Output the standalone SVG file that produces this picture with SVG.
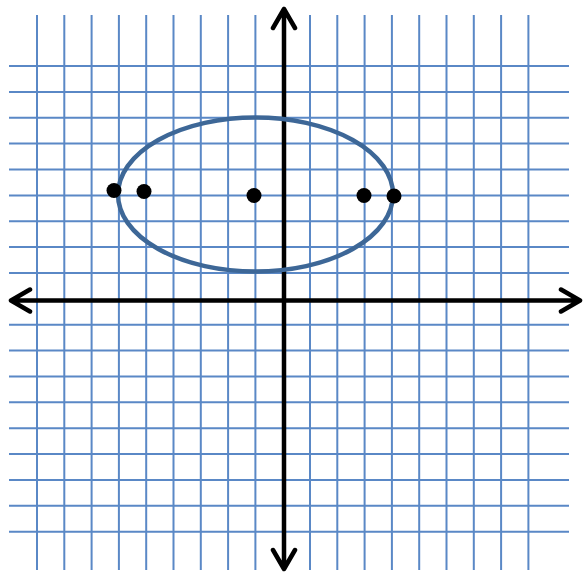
<svg xmlns="http://www.w3.org/2000/svg" width="586" height="578" viewBox="0 0 586 578">
<style>
.g{stroke:#5a88c6;stroke-width:2;fill:none}
.ax{stroke:#000;stroke-width:4.5;fill:none;stroke-linecap:round;stroke-linejoin:round}
.pt{fill:#000}
</style>
<rect width="586" height="578" fill="#fff"/>
<g id="grid">
<path class="g" d="M37,15V570M64.3,15V570M91.6,15V570M118.9,15V570M146.2,15V570M173.5,15V570M200.8,15V570M228.1,15V570M255.4,15V570M310,15V570M337.3,15V570M364.6,15V570M391.9,15V570M419.2,15V570M446.5,15V570M473.8,15V570M501.1,15V570M528.4,15V570"/>
<path class="g" d="M9,66H569M9,91.9H569M9,117.7H569M9,143.6H569M9,169.5H569M9,195.4H569M9,221.2H569M9,247.1H569M9,273H569M9,324.7H569M9,350.6H569M9,376.4H569M9,402.3H569M9,428.2H569M9,454.1H569M9,479.9H569M9,505.8H569M9,531.7H569"/>
</g>
<g id="axes">
<path class="ax" d="M284,9V569M273,28L284,9L295,28M273,550L284,569L295,550"/>
<path class="ax" d="M11,300.5H580M30,289.5L11,300.5L30,311.5M561,289.5L580,300.5L561,311.5"/>
</g>
<g id="ellipse">
<ellipse cx="255.5" cy="194.5" rx="137.5" ry="77" fill="none" stroke="#3d6797" stroke-width="4.5"/>
</g>
<g id="points">
<circle class="pt" cx="114" cy="190.5" r="7.5"/>
<circle class="pt" cx="144" cy="191.5" r="7.5"/>
<circle class="pt" cx="254" cy="195.5" r="7.5"/>
<circle class="pt" cx="364" cy="195.5" r="7.5"/>
<circle class="pt" cx="394" cy="196" r="7.5"/>
</g>
</svg>
